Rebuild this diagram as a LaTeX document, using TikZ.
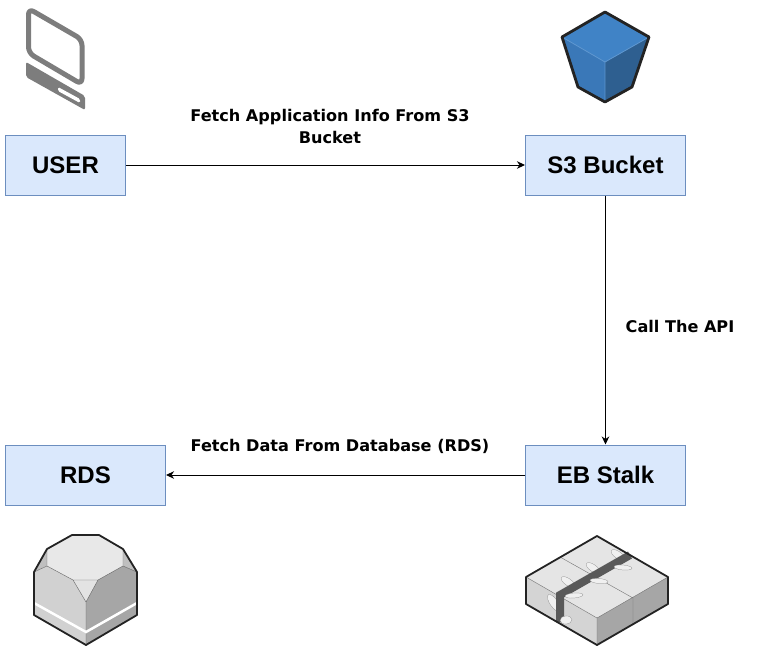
\documentclass[tikz,border=0pt]{standalone}
\usepackage{fontspec}
\setmainfont{Liberation Sans}
\newfontfamily\edgefont{DejaVu Sans}
\usepackage{xcolor}
\usepackage{tikz}
\usetikzlibrary{arrows.meta}
\tikzset{>={Stealth[length=8pt,width=7.5pt,inset=2.5pt]}}
\definecolor{boxfill}{HTML}{DAE8FC}
\definecolor{boxline}{HTML}{6C8EBF}
\definecolor{pcgray}{HTML}{7D7D7D}
\definecolor{iconline}{HTML}{232323}
\definecolor{bktTop}{HTML}{4083C6}
\definecolor{bktL}{HTML}{3A78B8}
\definecolor{bktR}{HTML}{2E5F90}
\tikzset{
  stepbox/.style={draw=boxline,fill=boxfill,line width=1pt,minimum height=60pt,
    inner sep=0pt,font=\fontsize{24}{28}\selectfont\bfseries},
  flowlabel/.style={align=center,font=\edgefont\fontsize{16.1}{22}\selectfont\bfseries},
  flow/.style={->,line width=1pt}
}
\newcommand{\pcicon}{%
  \draw[pcgray,line width=5pt,line join=round,rounded corners=6pt]
    (28.5,8.5) -- (82,39.5) -- (82,84.5) -- (28.5,53) -- cycle;
  \fill[pcgray,rounded corners=2pt] (26,62) -- (85,96) -- (85,110) -- (26,77) -- cycle;
  \fill[white,rounded corners=1.5pt] (58,87) -- (80,99) -- (80,103) -- (58,91) -- cycle;
}
\newcommand{\bucketicon}{%
  \fill[bktL] (562,37) -- (605,62) -- (605,102) -- (578,87) -- cycle;
  \fill[bktR] (649,37) -- (605,62) -- (605,102) -- (632,87) -- cycle;
  \fill[bktTop] (605,12) -- (649,37) -- (605,62) -- (562,37) -- cycle;
  \draw[bktTop!85!white,thick] (562,37) -- (605,62) -- (649,37) (605,62) -- (605,102);
  \draw[iconline,line width=2.8pt,line join=round]
    (605,12) -- (649,37) -- (632,87) -- (605,102) -- (578,87) -- (562,37) -- cycle;
}
\newcommand{\rdsicon}{%
  \fill[black!25] (34,572) -- (47,549) -- (123,549) -- (137,572) -- (123,566) -- (47,566) -- cycle;
  \fill[black!9] (47,549) -- (72,535) -- (99,535) -- (123,549) -- (123,566) -- (98,580) -- (73,580) -- (47,566) -- cycle;
  \fill[black!11] (73,580) -- (98,580) -- (86,602) -- cycle;
  \fill[black!18] (34,572) -- (47,566) -- (73,580) -- (86,602) -- (86,645) -- (34,615) -- cycle;
  \fill[black!35] (137,572) -- (123,566) -- (98,580) -- (86,602) -- (86,645) -- (137,615) -- cycle;
  \draw[black!60,thin] (47,549) -- (47,566) -- (73,580) -- (98,580) -- (123,566) -- (123,549)
    (47,566) -- (34,572) (123,566) -- (137,572) (73,580) -- (86,602) -- (98,580) (86,602) -- (86,645);
  \draw[white,line width=2.5pt] (34,603) -- (86,632) -- (137,603);
  \draw[iconline,line width=1.8pt,line join=round]
    (72,535) -- (99,535) -- (123,549) -- (137,572) -- (137,615) -- (86,645) -- (34,615) -- (34,572) -- (47,549) -- cycle;
}
\newcommand{\leaf}[5]{\filldraw[fill=white!94!black,draw=black!50,very thin,rotate around={#5:(#1,#2)}] (#1,#2) ellipse (#3pt and #4pt);}
\newcommand{\ebicon}{%
  \fill[black!10] (597,536) -- (668,577) -- (597,618) -- (526,577) -- cycle;
  \fill[black!17] (526,577) -- (597,618) -- (597,645) -- (526,604) -- cycle;
  \fill[black!35] (668,577) -- (597,618) -- (597,645) -- (668,604) -- cycle;
  \draw[black!55,thin] (526,577) -- (597,618) -- (668,577) (597,618) -- (597,645)
    (560,557) -- (633,598) -- (633,625);
  \leaf{618}{555}{8}{3.5}{-35} \leaf{593}{568}{8}{3.5}{-35} \leaf{568}{582}{8}{3.5}{-35} \leaf{554}{603}{10}{4}{-55}
  \draw[black!65,line width=8pt,line join=miter] (630,555) -- (560,595) -- (560,622);
  \leaf{623}{567.5}{9}{2.5}{-5} \leaf{599}{581}{9}{2.5}{-5} \leaf{574}{595.5}{9}{2.5}{5} \leaf{566}{620}{6}{4}{5}
  \draw[iconline,line width=1.8pt,line join=round]
    (597,536) -- (668,577) -- (668,604) -- (597,645) -- (526,604) -- (526,577) -- cycle;
}
\begin{document}
\begin{tikzpicture}[x=1pt,y=-1pt]
\useasboundingbox (0,0) rectangle (771,651);
\pcicon \bucketicon \rdsicon \ebicon
\node[stepbox,minimum width=120pt] (user) at (65.5,165) {USER};
\node[stepbox,minimum width=160pt] (bucket) at (605.5,165) {S3 Bucket};
\node[stepbox,minimum width=160pt] (rds) at (85.5,475) {RDS};
\node[stepbox,minimum width=160pt] (stalk) at (605.5,475) {EB Stalk};
\draw[flow] (user) -- (bucket);
\draw[flow] (bucket) -- (stalk);
\draw[flow] (stalk) -- (rds);
\node[flowlabel] (fetchinfo) at (330,126) {Fetch Application Info From S3\\Bucket};
\node[flowlabel] (callapi) at (680,326) {Call The API};
\node[flowlabel] (fetchdata) at (340,446.5) {Fetch Data From Database (RDS)};
\end{tikzpicture}
\end{document}
